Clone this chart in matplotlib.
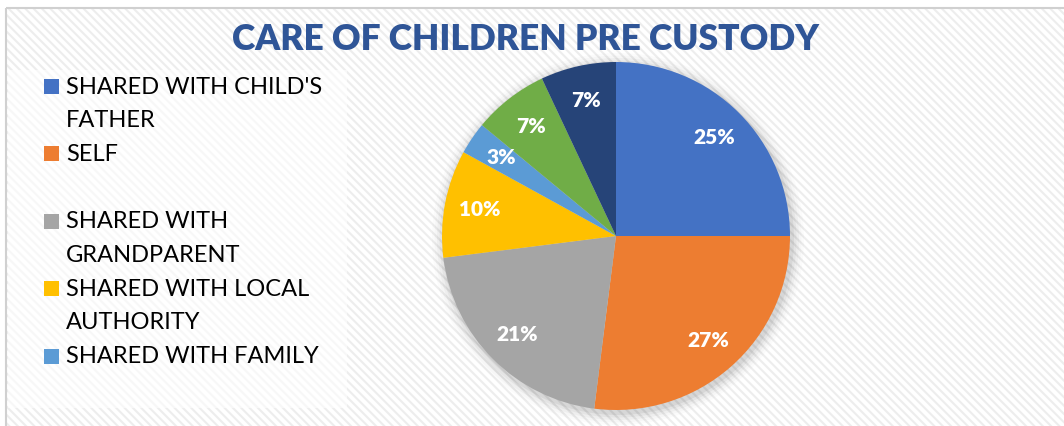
import matplotlib
matplotlib.use("Agg")
import matplotlib.pyplot as plt
from matplotlib.patches import Rectangle, Ellipse

title = "CARE OF CHILDREN PRE CUSTODY"
values = [25, 27, 21, 10, 3, 7, 7]
colors = ["#4472C4", "#ED7D31", "#A5A5A5", "#FFC000", "#5B9BD5", "#70AD47", "#264478"]
# legend (truncated in the original: only the first five entries are visible)
legend_labels = ["SHARED WITH CHILD'S\nFATHER", "SELF", "SHARED WITH\nGRANDPARENT",
                 "SHARED WITH LOCAL\nAUTHORITY", "SHARED WITH FAMILY"]
# line slot where each legend entry starts (a blank line follows "SELF")
legend_slots = [0, 2, 4, 6, 8]

W, H = 1064, 426
plt.rcParams["hatch.linewidth"] = 1.5
fig = plt.figure(figsize=(W / 100, H / 100), dpi=100)
fig.patch.set_facecolor("white")

# background with light diagonal stripes
bg = fig.add_axes([0, 0, 1, 1])
bg.set_xlim(0, W)
bg.set_ylim(H, 0)
bg.axis("off")
bg.add_patch(Rectangle((6, 8), W, H, facecolor="white", edgecolor="#EDEDED", lw=0, hatch="\\\\\\\\"))
bg.add_patch(Rectangle((6, 8), W, H, facecolor="none", edgecolor="#D0D0D0", lw=1.5))
# legend box (lighter)
bg.add_patch(Rectangle((8, 70), 339, 338, facecolor="white", edgecolor="none", alpha=0.6))

# soft shadow around the pie
cx, cy, R = 616, 236, 174
for i, a in enumerate([0.05, 0.04, 0.03, 0.02, 0.015]):
    r = R + 2 + 2.5 * i
    bg.add_patch(Ellipse((cx + 2, cy + 3), 2 * r, 2 * r, facecolor="#000000", alpha=a, edgecolor="none"))

# title
fig.text(526 / W, 1 - 40 / H, title, ha="center", va="center", fontsize=25.5,
         fontweight="heavy", color="#2F5597", family="Lato")

# pie
ax = fig.add_axes([(cx - R) / W, (H - cy - R) / H, 2 * R / W, 2 * R / H])
wedges, texts, autotexts = ax.pie(values, colors=colors, startangle=90, counterclock=False,
                                  autopct="%1.0f%%", pctdistance=0.8,
                                  wedgeprops=dict(linewidth=0))
for t in autotexts:
    t.set_color("white")
    t.set_fontsize(15)
    t.set_fontweight("heavy")
    t.set_family("Lato")
ax.set_xlim(-1, 1)
ax.set_ylim(-1, 1)
ax.set_aspect("equal")
ax.axis("off")

# legend drawn manually
line_h = 33.7
y0 = 87
for lab, slot, col in zip(legend_labels, legend_slots, colors):
    y = y0 + slot * line_h
    bg.add_patch(Rectangle((44, y - 8), 15, 15, facecolor=col, edgecolor="none"))
    for k, line in enumerate(lab.split("\n")):
        bg.text(66, y + k * line_h, line, ha="left", va="center", fontsize=17,
                family="Lato", color="#000000")

fig.savefig("out.png", dpi=100)
